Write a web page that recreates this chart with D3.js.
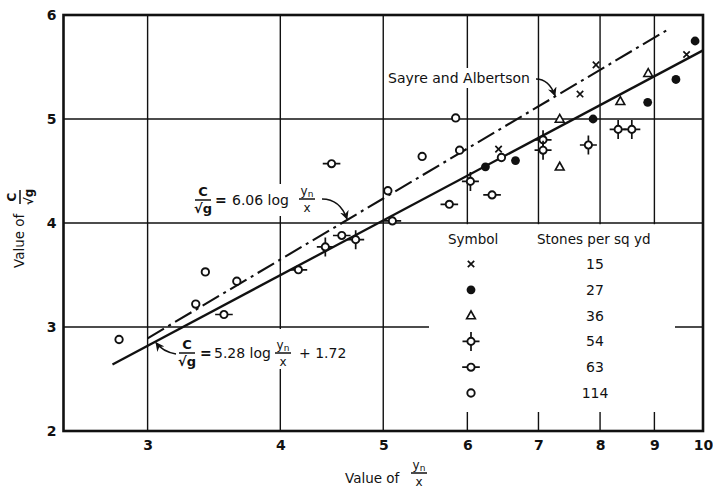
<!DOCTYPE html>
<html>
<head>
<meta charset="utf-8">
<script src="https://cdn.jsdelivr.net/npm/d3@7"></script>
<style>
  html, body { margin: 0; padding: 0; background: #fff; }
  svg { display: block; font-family: "DejaVu Sans", "Liberation Sans", Arial, sans-serif; }
</style>
</head>
<body>
<svg id="chart" width="713" height="490"></svg>
<script>
// ---- data -------------------------------------------------------------
const xTicks = [3, 4, 5, 6, 7, 8, 9, 10];
const yTicks = [2, 3, 4, 5, 6];

// stones per square yard for each symbol group
const stoneCounts = [15, 27, 36, 54, 63, 114];
const symbolKinds = ["cross", "dot", "tri", "star", "bars", "ring"];

// y_n / x ratio and C / sqrt(g) for each group
const ratio15 = [6.42, 7.66, 7.93, 9.65];
const c15     = [4.71, 5.24, 5.52, 5.62];
const ratio27 = [6.24, 6.66, 7.88, 8.87, 9.43, 9.83];
const c27     = [4.54, 4.60, 5.00, 5.16, 5.38, 5.75];
const ratio36 = [7.33, 7.33, 8.36, 8.88];
const c36     = [4.54, 5.00, 5.17, 5.44];
const ratio54 = [4.41, 4.71, 6.04, 7.07, 7.07, 7.80, 8.32, 8.57];
const c54     = [3.77, 3.84, 4.40, 4.80, 4.70, 4.75, 4.90, 4.90];
const ratio63 = [3.54, 4.16, 4.47, 4.57, 5.10, 5.77, 6.33];
const c63     = [3.12, 3.55, 4.57, 3.88, 4.02, 4.18, 4.27];
const ratio114 = [2.82, 3.33, 3.40, 3.64, 5.05, 5.44, 5.85, 5.90, 6.46];
const c114     = [2.88, 3.22, 3.53, 3.44, 4.31, 4.64, 5.01, 4.70, 4.63];

// Sayre and Albertson: C/sqrt(g) = 6.06 log(y_n/x)
const sayreCoef = 6.06;
const sayreRatio = [3.0, 9.3];

// fitted line through the present data (end points)
const fitRatio = [2.78, 10];
const fitC     = [2.64, 5.66];

// ---- setup ------------------------------------------------------------
const INK = "#111";
const svg = d3.select("#chart");
const x = d3.scaleLog().domain([2.5, 10]).range([63.5, 703]);
const y = d3.scaleLinear().domain([2, 6]).range([431, 15]);

const sayreAt = r => sayreCoef * Math.log10(r);
const fitAt = r => {
  const t = (Math.log10(r) - Math.log10(fitRatio[0])) /
            (Math.log10(fitRatio[1]) - Math.log10(fitRatio[0]));
  return fitC[0] + t * (fitC[1] - fitC[0]);
};

// ---- grid ---------------------------------------------------------------
const grid = svg.append("g").attr("stroke", INK).attr("stroke-width", 1.4);
grid.selectAll("line.v").data(xTicks.filter(d => d < 10)).join("line")
  .attr("x1", d => x(d)).attr("x2", d => x(d))
  .attr("y1", y(6)).attr("y2", y(2));
grid.selectAll("line.h").data(yTicks.filter(d => d > 2 && d < 6)).join("line")
  .attr("x1", x(2.5)).attr("x2", x(10))
  .attr("y1", d => y(d)).attr("y2", d => y(d));

// white panels behind the legend and the annotations
const panels = [
  [429, y(4) + 1.2, 246, 412 - y(4) - 1.2],   // legend
  [190, 184, 128, 32],                        // Sayre equation
  [176, 329, 176, 40],                        // fitted equation
  [385, 68, 150, 20]                          // Sayre and Albertson
];
svg.append("g").selectAll("rect").data(panels).join("rect")
  .attr("x", d => d[0]).attr("y", d => d[1])
  .attr("width", d => d[2]).attr("height", d => d[3])
  .attr("fill", "#fff");

// frame
svg.append("rect")
  .attr("x", x(2.5)).attr("y", y(6))
  .attr("width", x(10) - x(2.5)).attr("height", y(2) - y(6))
  .attr("fill", "none").attr("stroke", INK).attr("stroke-width", 2.6);

// ---- axes ---------------------------------------------------------------
const xAxis = svg.append("g")
  .attr("transform", `translate(0,${y(2)})`)
  .call(d3.axisBottom(x).tickValues(xTicks).tickFormat(d3.format("d"))
        .tickSize(0).tickPadding(9));
xAxis.select(".domain").remove();
xAxis.attr("font-family", null).attr("font-size", 14).attr("font-weight", "bold");
xAxis.selectAll("text").attr("fill", INK);

const yAxis = svg.append("g")
  .attr("transform", `translate(${x(2.5)},0)`)
  .call(d3.axisLeft(y).tickValues(yTicks).tickFormat(d3.format("d"))
        .tickSize(0).tickPadding(7));
yAxis.select(".domain").remove();
yAxis.attr("font-family", null).attr("font-size", 14).attr("font-weight", "bold");
yAxis.selectAll("text").attr("fill", INK);

// ---- lines ----------------------------------------------------------------
const line = d3.line().x(d => x(d[0])).y(d => y(d[1]));

svg.append("path")
  .datum(sayreRatio.map(r => [r, sayreAt(r)]))
  .attr("d", line).attr("fill", "none")
  .attr("stroke", INK).attr("stroke-width", 2.1)
  .attr("stroke-dasharray", "19,5,3,5");

svg.append("path")
  .datum(fitRatio.map((r, i) => [r, fitC[i]]))
  .attr("d", line).attr("fill", "none")
  .attr("stroke", INK).attr("stroke-width", 2.3);

// ---- symbols --------------------------------------------------------------
function drawSymbol(parent, kind, cx, cy) {
  const s = parent.append("g")
    .attr("transform", `translate(${cx},${cy})`)
    .attr("stroke", INK).attr("fill", "none");
  if (kind === "cross") {
    s.append("path").attr("d", "M-3.2,-3.2L3.2,3.2M-3.2,3.2L3.2,-3.2")
      .attr("stroke-width", 1.7);
  } else if (kind === "dot") {
    s.append("circle").attr("r", 4.4).attr("fill", INK).attr("stroke", "none");
  } else if (kind === "tri") {
    s.append("path").attr("d", "M0,-4.6L4.4,3.2L-4.4,3.2Z")
      .attr("fill", "#fff").attr("stroke-width", 1.6);
  } else if (kind === "star") {
    s.append("path").attr("d", "M0,-3.6L0,-9.5M0,3.6L0,9.5M-3.6,0L-8.5,0M3.6,0L8.5,0")
      .attr("stroke-width", 1.7);
    s.append("circle").attr("r", 3.6).attr("fill", "#fff").attr("stroke-width", 1.9);
  } else if (kind === "bars") {
    s.append("path").attr("d", "M-3.6,0L-8.8,0M3.6,0L8.8,0").attr("stroke-width", 1.7);
    s.append("circle").attr("r", 3.6).attr("fill", "#fff").attr("stroke-width", 1.9);
  } else {
    s.append("circle").attr("r", 3.7).attr("fill", "#fff").attr("stroke-width", 1.9);
  }
}

const groups = [
  [ratio15, c15], [ratio27, c27], [ratio36, c36],
  [ratio54, c54], [ratio63, c63], [ratio114, c114]
];
const pts = svg.append("g");
groups.forEach(([rs, cs], gi) => {
  rs.forEach((r, i) => drawSymbol(pts, symbolKinds[gi], x(r), y(cs[i])));
});

// ---- legend ---------------------------------------------------------------
const legend = svg.append("g").attr("fill", INK);
legend.append("text").attr("x", 448).attr("y", 244).attr("font-size", 13.5).text("Symbol");
legend.append("text").attr("x", 537).attr("y", 244).attr("font-size", 13.5).text("Stones per sq yd");
const rowY = d3.scaleLinear().domain([0, stoneCounts.length - 1]).range([264, 393]);
stoneCounts.forEach((n, i) => {
  drawSymbol(legend, symbolKinds[i], 471, rowY(i));
  legend.append("text").attr("x", 595).attr("y", rowY(i)).attr("dy", "0.36em")
    .attr("text-anchor", "middle").attr("font-size", 14).text(n);
});

// ---- text helpers -----------------------------------------------------------
function rich(sel, parts, size) {
  parts.forEach(p => {
    const t = sel.append("tspan").text(p.t);
    if (p.sub) t.attr("font-size", size * 0.75).attr("dy", size * 0.2);
  });
}
function fraction(parent, cx, barY, num, den, size, weight, halfW) {
  const g = parent.append("g").attr("fill", INK).attr("font-weight", weight);
  rich(g.append("text").attr("x", cx).attr("y", barY - 4)
        .attr("text-anchor", "middle").attr("font-size", size), num, size);
  g.append("line").attr("x1", cx - halfW).attr("x2", cx + halfW)
    .attr("y1", barY).attr("y2", barY)
    .attr("stroke", INK).attr("stroke-width", 1.5);
  rich(g.append("text").attr("x", cx).attr("y", barY + 12.5)
        .attr("text-anchor", "middle").attr("font-size", size), den, size);
}
const C = [{ t: "C" }];
const SQG = [{ t: "√g" }];
const YN = [{ t: "y" }, { t: "n", sub: true }];
const XX = [{ t: "x" }];

// arrow head
svg.append("defs").append("marker")
  .attr("id", "head").attr("viewBox", "0 0 10 10")
  .attr("refX", 9).attr("refY", 5)
  .attr("markerWidth", 9).attr("markerHeight", 9)
  .attr("markerUnits", "userSpaceOnUse")
  .attr("orient", "auto")
  .append("path").attr("d", "M0,0L10,5L0,10L3,5Z").attr("fill", INK);

function arrow(x0, y0, cxp, cyp, x1, y1) {
  svg.append("path")
    .attr("d", `M${x0},${y0}Q${cxp},${cyp} ${x1},${y1}`)
    .attr("fill", "none").attr("stroke", INK).attr("stroke-width", 1.5)
    .attr("marker-end", "url(#head)");
}

// ---- annotations ------------------------------------------------------------
// Sayre and Albertson
svg.append("text").attr("x", 388).attr("y", 83).attr("font-size", 14)
  .attr("fill", INK).text("Sayre and Albertson");
{
  const tr = x.invert(555);
  arrow(536, 79, 549, 79, x(tr), y(sayreAt(tr)) - 1);
}

// C/sqrt(g) = 6.06 log(y_n/x)
fraction(svg, 203, 200, C, SQG, 13, "bold", 8);
svg.append("text").attr("x", 215).attr("y", 205).attr("font-size", 14)
  .attr("fill", INK).attr("font-weight", "bold").text("=");
svg.append("text").attr("x", 232).attr("y", 205).attr("font-size", 14)
  .attr("fill", INK).text("6.06 log");
fraction(svg, 307, 199, YN, XX, 12, "normal", 8);
{
  const tr = x.invert(347);
  arrow(322, 199, 340, 199, x(tr), y(sayreAt(tr)) - 1);
}

// C/sqrt(g) = 5.28 log(y_n/x) + 1.72
fraction(svg, 187, 353, C, SQG, 13, "bold", 8);
svg.append("text").attr("x", 200).attr("y", 358).attr("font-size", 14)
  .attr("fill", INK).attr("font-weight", "bold").text("=");
svg.append("text").attr("x", 214).attr("y", 358).attr("font-size", 14)
  .attr("fill", INK).text("5.28 log");
fraction(svg, 283, 353, YN, XX, 12, "normal", 8);
svg.append("text").attr("x", 299).attr("y", 358).attr("font-size", 14)
  .attr("fill", INK).text("+ 1.72");
{
  const tr = x.invert(155);
  arrow(176, 354, 163, 352, x(tr) + 1, y(fitAt(tr)) + 1);
}

// ---- axis titles ------------------------------------------------------------
svg.append("text").attr("x", 345).attr("y", 483).attr("font-size", 13.5)
  .attr("fill", INK).text("Value of");
fraction(svg, 419, 473, YN, XX, 12, "normal", 8);

const yTitle = svg.append("g").attr("transform", "rotate(-90)");
yTitle.append("text").attr("x", -268).attr("y", 24).attr("font-size", 13.5)
  .attr("fill", INK).text("Value of");
fraction(yTitle, -197, 20, C, SQG, 12, "bold", 7);
</script>
</body>
</html>
